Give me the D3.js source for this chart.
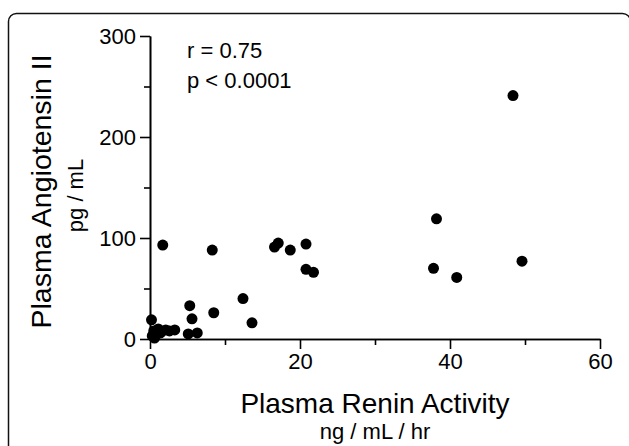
<!DOCTYPE html>
<html>
<head>
<meta charset="utf-8">
<script src="https://cdn.jsdelivr.net/npm/d3@7"></script>
<style>
  html, body { margin: 0; padding: 0; background: #fff; }
  svg { display: block; font-family: "Liberation Sans", Arial, sans-serif; }
</style>
</head>
<body>
<div id="chart"></div>
<script>
// Plasma renin activity (ng/mL/hr) vs plasma angiotensin II (pg/mL)
var reninValues = [0.2, 0.3, 0.6, 0.5, 0.9, 1.1, 1.4, 2.1, 2.6, 3.3,
                   1.7, 5.1, 6.3, 5.3, 5.6, 8.5, 8.3, 12.4, 13.6,
                   16.6, 17.1, 18.7, 20.8, 20.8, 21.8,
                   37.8, 38.2, 40.9, 48.4, 49.6];
var angIIValues = [19, 3, 1, 8, 5, 10, 6, 9, 8, 9,
                   93, 5, 6, 33, 20, 26, 88, 40, 16,
                   91, 95, 88, 94, 69, 66,
                   70, 119, 61, 241, 77];
var xMajorTicks = [0, 20, 40, 60];
var xMinorTicks = [10, 30, 50];
var yMajorTicks = [0, 100, 200, 300];
var yMinorTicks = [50, 150, 250];
var statsLines = ["r = 0.75", "p < 0.0001"];

var width = 629, height = 446;
var margin = { top: 36, right: 29, bottom: 107, left: 150 };
var innerW = width - margin.left - margin.right;
var innerH = height - margin.top - margin.bottom;

var svg = d3.select("#chart").append("svg")
    .attr("width", width)
    .attr("height", height);

// panel frame (runs off the bottom of the picture)
svg.append("rect")
    .attr("x", 8.5).attr("y", 13.5)
    .attr("width", 622).attr("height", 500)
    .attr("rx", 8)
    .attr("fill", "none")
    .attr("stroke", "#111")
    .attr("stroke-width", 1.5);

var g = svg.append("g")
    .attr("transform", "translate(" + margin.left + "," + margin.top + ")");

var x = d3.scaleLinear().domain([0, 60]).range([0, innerW]);
var y = d3.scaleLinear().domain([0, 300]).range([innerH, 0]);

function styleAxis(sel) {
    sel.select(".domain").attr("stroke", "#000").attr("stroke-width", 1.6);
    sel.selectAll(".tick line").attr("stroke", "#000").attr("stroke-width", 1.6);
    sel.selectAll(".tick text")
        .attr("fill", "#000")
        .style("font-size", "22px")
        .style("font-family", "'Liberation Sans', Arial, sans-serif");
}

// minor ticks first, then the major axes on top
g.append("g")
    .attr("transform", "translate(0," + innerH + ")")
    .call(d3.axisBottom(x).tickValues(xMinorTicks).tickSize(6).tickSizeOuter(0).tickFormat(""))
    .call(styleAxis);
g.append("g")
    .call(d3.axisLeft(y).tickValues(yMinorTicks).tickSize(6).tickSizeOuter(0).tickFormat(""))
    .call(styleAxis);

g.append("g")
    .attr("transform", "translate(0," + innerH + ")")
    .call(d3.axisBottom(x).tickValues(xMajorTicks).tickSize(10).tickSizeOuter(0).tickPadding(4))
    .call(styleAxis);
g.append("g")
    .call(d3.axisLeft(y).tickValues(yMajorTicks).tickSize(10).tickSizeOuter(0).tickPadding(4))
    .call(styleAxis);

// points
g.selectAll("circle.pt")
    .data(reninValues.map(function (d, i) { return { x: d, y: angIIValues[i] }; }))
    .enter().append("circle")
    .attr("class", "pt")
    .attr("cx", function (d) { return x(d.x); })
    .attr("cy", function (d) { return y(d.y); })
    .attr("r", 5.5)
    .attr("fill", "#000");

// x axis titles
g.append("text")
    .attr("x", innerW / 2).attr("y", innerH + 74)
    .attr("text-anchor", "middle")
    .style("font-size", "28px")
    .text("Plasma Renin Activity");
g.append("text")
    .attr("x", innerW / 2).attr("y", innerH + 100)
    .attr("text-anchor", "middle")
    .style("font-size", "22px")
    .text("ng / mL / hr");

// y axis titles
g.append("text")
    .attr("transform", "translate(" + (-99) + "," + (innerH / 2 + 4) + ") rotate(-90)")
    .attr("text-anchor", "middle")
    .style("font-size", "28.5px")
    .text("Plasma Angiotensin II");
g.append("text")
    .attr("transform", "translate(" + (-67) + "," + (innerH / 2 + 8) + ") rotate(-90)")
    .attr("text-anchor", "middle")
    .style("font-size", "22px")
    .text("pg / mL");

// correlation note
g.selectAll("text.stat")
    .data(statsLines)
    .enter().append("text")
    .attr("class", "stat")
    .attr("x", 37)
    .attr("y", function (d, i) { return 22 + i * 30; })
    .style("font-size", "22px")
    .text(function (d) { return d; });
</script>
</body>
</html>
